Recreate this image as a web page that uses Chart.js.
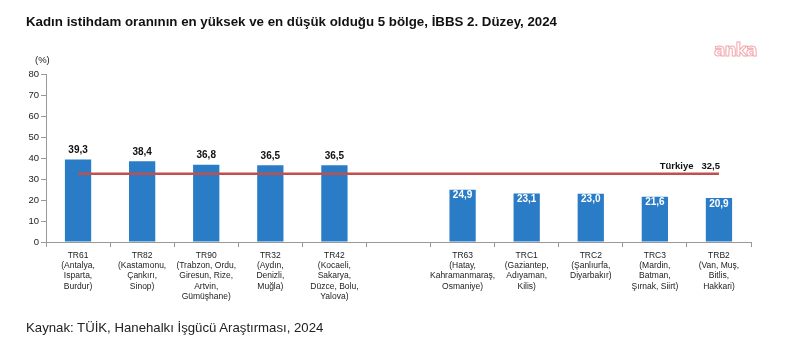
<!DOCTYPE html>
<html>
<head>
<meta charset="utf-8">
<script src="https://cdn.jsdelivr.net/npm/chart.js@4.4.1/dist/chart.umd.min.js"></script>
<style>
  body { margin: 0; background: #fff; font-family: "Liberation Sans", Arial, sans-serif; }
  #wrap { position: relative; width: 799px; height: 344px; }
  #chart { position: absolute; left: 0; top: 0; }
  .txt { position: absolute; white-space: nowrap; color: #000; font-family: "Liberation Sans", Arial, sans-serif; }
  #title { left: 26px; top: 14px; font-size: 13.3px; font-weight: bold; color: #111; }
  #unit { left: 35px; top: 54px; font-size: 9.5px; color: #222; }
  #logo { left: 714px; top: 40px; font-size: 17px; font-weight: bold; color: #fff; -webkit-text-stroke: 1px #f3a9ad; font-family: "DejaVu Sans", sans-serif; letter-spacing: -1px; }
  #source { left: 26px; top: 320px; font-size: 13.2px; color: #222; }
</style>
</head>
<body>
<div id="wrap">
  <canvas id="chart" width="799" height="344"></canvas>
  <div class="txt" id="title">Kadın istihdam oranının en yüksek ve en düşük olduğu 5 bölge, İBBS 2. Düzey, 2024</div>
  <div class="txt" id="unit">(%)</div>
  <div class="txt" id="logo">anka</div>
  <div class="txt" id="source">Kaynak: TÜİK, Hanehalkı İşgücü Araştırması, 2024</div>
</div>
<script>
// kategoriler (bos olan ara bosluk)
var regions = [
  ["TR61", "(Antalya,", "Isparta,", "Burdur)"],
  ["TR82", "(Kastamonu,", "Çankırı,", "Sinop)"],
  ["TR90", "(Trabzon, Ordu,", "Giresun, Rize,", "Artvin,", "Gümüşhane)"],
  ["TR32", "(Aydın,", "Denizli,", "Muğla)"],
  ["TR42", "(Kocaeli,", "Sakarya,", "Düzce, Bolu,", "Yalova)"],
  "",
  ["TR63", "(Hatay,", "Kahramanmaraş,", "Osmaniye)"],
  ["TRC1", "(Gaziantep,", "Adıyaman,", "Kilis)"],
  ["TRC2", "(Şanlıurfa,", "Diyarbakır)"],
  ["TRC3", "(Mardin,", "Batman,", "Şırnak, Siirt)"],
  ["TRB2", "(Van, Muş,", "Bitlis,", "Hakkari)"]
];
var rates = [39.3, 38.4, 36.8, 36.5, 36.5, null, 24.9, 23.1, 23.0, 21.6, 20.9];
var turkiye = 32.5;
var turkiyeLine = regions.map(function(){ return turkiye; });

var fontFam = '"Liberation Sans", Arial, sans-serif';

function fmt(v){ return v.toFixed(1).replace('.', ','); }

var labelsPlugin = {
  id: 'labels',
  afterDatasetsDraw: function(chart){
    var ctx = chart.ctx;
    var meta = chart.getDatasetMeta(1);
    ctx.save();
    ctx.font = 'bold 10px ' + fontFam;
    ctx.textAlign = 'center';
    ctx.textBaseline = 'middle';
    meta.data.forEach(function(bar, i){
      var v = rates[i];
      if (v === null) return;
      if (i < 5) {
        ctx.fillStyle = '#111';
        ctx.fillText(fmt(v), bar.x, bar.y - 9);
      } else {
        ctx.fillStyle = '#fff';
        ctx.fillText(fmt(v), bar.x, bar.y + 6);
      }
    });
    // Türkiye etiketi
    var line = chart.getDatasetMeta(0);
    var last = line.data[line.data.length - 1];
    ctx.fillStyle = '#111';
    ctx.textAlign = 'right';
    ctx.font = 'bold 9.5px ' + fontFam;
    ctx.fillText('Türkiye   ' + fmt(turkiye), last.x + 1, last.y - 7);
    ctx.restore();
  }
};

new Chart(document.getElementById('chart'), {
  type: 'bar',
  data: {
    labels: regions,
    datasets: [
      {
        type: 'line',
        data: turkiyeLine,
        borderColor: '#c0504d',
        borderWidth: 2.5,
        pointRadius: 0,
        fill: false,
        order: 0
      },
      {
        data: rates,
        backgroundColor: '#2a7cc6',
        barPercentage: 0.41,
        categoryPercentage: 1,
        order: 1
      }
    ]
  },
  options: {
    responsive: false,
    animation: false,
    layout: { padding: { left: 0, right: 48, top: 74, bottom: 0 } },
    plugins: { legend: { display: false }, tooltip: { enabled: false } },
    scales: {
      y: {
        min: 0, max: 80,
        ticks: { stepSize: 10, color: '#222', font: { size: 9.5, family: fontFam }, padding: 2 },
        grid: { drawOnChartArea: false, tickLength: 5, color: '#999' },
        border: { color: '#999' },
        afterFit: function(s){ s.width = 46; }
      },
      x: {
        ticks: { color: '#222', font: { size: 8.5, family: fontFam, lineHeight: 1.22 }, padding: 3, maxRotation: 0, autoSkip: false },
        grid: { drawOnChartArea: false, tickLength: 5, color: '#999', offset: true },
        border: { color: '#999' },
        afterFit: function(s){ s.height = 102; }
      }
    }
  },
  plugins: [labelsPlugin]
});
</script>
</body>
</html>
